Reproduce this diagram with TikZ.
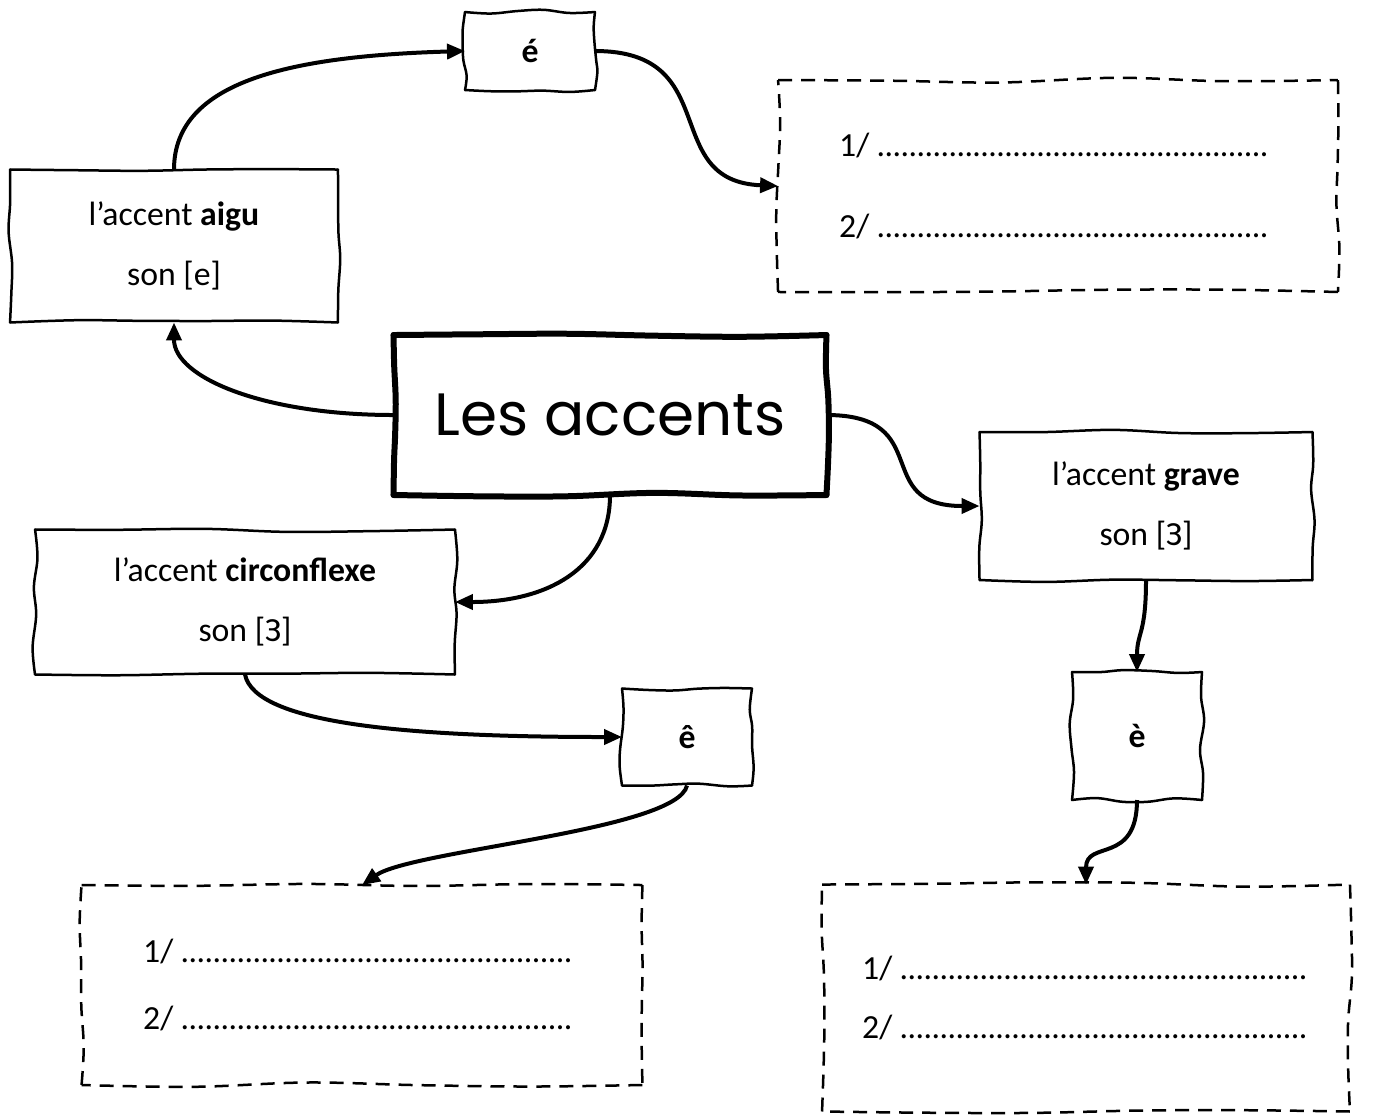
\documentclass[tikz,border=0pt]{standalone}
\usepackage{fontspec}
\usepackage{graphicx}
\setmainfont{Carlito}
\newfontfamily\titlefont{Poppins}
\usetikzlibrary{arrows.meta,calc}

\newcommand{\dotsline}[1]{\hbox to #1{\leaders\hbox to 0.16cm{\hss.\hss}\hfill}}
\newcommand{\opene}{\reflectbox{Ɛ}}
% hand drawn outline round a node
\newcommand{\handbox}[2]{%
  \foreach \a/\b in {north west/north east,north east/south east,south east/south west,south west/north west}
    \draw[#2] plot[smooth,tension=0.6] coordinates {(#1.\a)
      ($(#1.\a)!0.2!(#1.\b)+({2.5*rand},{2.5*rand})$)
      ($(#1.\a)!0.4!(#1.\b)+({2.5*rand},{2.5*rand})$)
      ($(#1.\a)!0.6!(#1.\b)+({2.5*rand},{2.5*rand})$)
      ($(#1.\a)!0.8!(#1.\b)+({2.5*rand},{2.5*rand})$)
      (#1.\b)};
}

\tikzset{
  boxtext/.style={inner sep=0pt, outer sep=0pt, align=center, font=\fontsize{19.2}{23}\selectfont},
  solidline/.style={line width=0.05cm, line cap=round},
  dashline/.style={line width=0.05cm, dash pattern=on 0.28cm off 0.18cm},
  link/.style={line width=0.08cm, -{Triangle[length=0.36cm,width=0.3cm]}}
}

\begin{document}
\begin{tikzpicture}[x=0.02cm,y=-0.02cm]
\pgfmathsetseed{11}
\useasboundingbox (0,0) rectangle (1381,1117);

\node[boxtext, minimum width=8.66cm, minimum height=3.2cm] (main) at (610,415) {\titlefont\fontsize{34}{40}\selectfont Les accents};

\node[boxtext, minimum width=6.56cm, minimum height=3.06cm] (aigu) at (174,246) {l’accent \textbf{aigu}\\[0.39cm]son [e]};
\node[boxtext, minimum width=6.66cm, minimum height=2.96cm] (grave) at (1146,506) {l’accent \textbf{grave}\\[0.39cm]son [\opene]};
\node[boxtext, minimum width=8.4cm, minimum height=2.9cm] (circ) at (245,602) {l’accent \textbf{circonflexe}\\[0.39cm]son [\opene]};

\node[boxtext, minimum width=2.6cm, minimum height=1.56cm] (eacute) at (530,51) {\textbf{é}};
\node[boxtext, minimum width=2.6cm, minimum height=1.94cm] (ecirc) at (687,737) {\textbf{ê}};
\node[boxtext, minimum width=2.6cm, minimum height=2.56cm] (egrave) at (1137,736) {\textbf{è}};

\node[boxtext, minimum width=11.2cm, minimum height=4.24cm] (dashtop) at (1058,186) {1/ \dotsline{8cm}\\[0.83cm]2/ \dotsline{8cm}};
\node[boxtext, minimum width=11.22cm, minimum height=4cm] (dashbl) at (362,985) {1/ \dotsline{8cm}\\[0.53cm]2/ \dotsline{8cm}};
\node[boxtext, minimum width=10.56cm, minimum height=4.54cm] (dashbr) at (1086,998) {1/ \dotsline{8.2cm}\\[0.39cm]2/ \dotsline{8.2cm}};

\handbox{main}{solidline, line width=0.12cm}
\foreach \n in {aigu,grave,circ,eacute,ecirc,egrave} {\handbox{\n}{solidline}}
\foreach \n in {dashtop,dashbl,dashbr} {\handbox{\n}{dashline}}

\draw[link] (aigu.north) .. controls +(0,-90) and +(-170,5) .. (eacute.west);
\draw[link] (eacute.east) .. controls +(130,0) and +(-120,-5) .. (dashtop.west);
\draw[link] (main.west) .. controls +(-130,0) and +(0,55) .. (aigu.south);
\draw[link] (main.east) .. controls +(110,0) and +(-110,0) .. (grave.west);
\draw[link] (main.south) .. controls +(0,75) and +(90,0) .. (circ.east);
\draw[link] (circ.south) .. controls +(10,50) and +(-210,0) .. (ecirc.west);
\draw[link] (ecirc.south) .. controls +(-10,45) and +(50,-35) .. (dashbl.north);
\draw[link] (grave.south) .. controls +(0,55) and +(0,-40) .. (egrave.north);
\draw[link] (egrave.south) .. controls +(0,65) and +(0,-45) .. (dashbr.north);
\end{tikzpicture}
\end{document}
